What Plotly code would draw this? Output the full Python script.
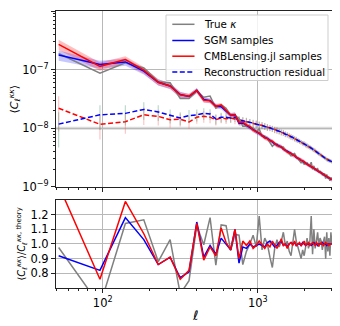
import numpy as np
import plotly.graph_objects as go

ell = [52, 96, 140, 184, 228, 272, 316, 360, 404, 448, 492, 536, 580, 624, 668, 712, 756, 800,
       844, 888, 932, 976, 1020, 1064, 1108, 1152, 1196, 1240, 1284, 1328, 1372, 1416, 1460,
       1504, 1548, 1592, 1636, 1680, 1724, 1768, 1812, 1856, 1900, 1944, 1988, 2032, 2076,
       2120, 2164, 2208, 2252, 2296, 2340, 2384, 2428, 2472, 2516, 2560, 2604, 2648, 2692,
       2736, 2780, 2824, 2868, 2912, 2956, 3000]

# theory C_ell^kk in units of 1e-9
theory_e9 = [193, 150, 115, 92, 71, 58, 49, 43, 38.5, 34,
             30, 25.8, 22.4, 19.6, 17.4, 15.5, 14.0, 12.6, 11.5, 10.5,
             9.62, 8.87, 8.20, 7.64, 7.13, 6.67, 6.26, 5.89, 5.56, 5.25,
             4.97, 4.71, 4.47, 4.25, 4.05, 3.86, 3.69, 3.53, 3.38, 3.23,
             3.11, 2.98, 2.87, 2.76, 2.65, 2.56, 2.47, 2.38, 2.30, 2.22,
             2.15, 2.08, 2.01, 1.95, 1.90, 1.84, 1.78, 1.74, 1.68, 1.63,
             1.59, 1.54, 1.51, 1.47, 1.43, 1.39, 1.35, 1.33]

ratio_true = [0.976, 0.58, 1.14, 1.165, 0.88, 1.03, 0.66, 0.75, 1.125, 0.995,
              1.18, 0.855, 1.13, 1.125, 0.955, 1.065, 1.06, 0.86, 0.95, 1.00,
              1.06, 0.98, 1.19, 0.96, 1.04, 1.00, 0.91, 0.84, 0.97, 1.03,
              0.98, 1.02, 1.08, 0.99, 1.02, 0.95, 0.92, 1.03, 1.10, 1.02,
              0.98, 0.95, 0.90, 0.96, 0.92, 0.98, 1.04, 0.97, 1.02, 1.19,
              0.93, 1.10, 0.97, 1.02, 1.08, 0.98, 1.04, 1.02, 0.96, 1.02,
              1.05, 0.90, 1.08, 0.95, 1.04, 0.92, 1.08, 1.00]

ratio_sgm = [0.92, 0.82, 1.18, 1.03, 0.86, 0.91, 0.77, 0.81, 1.15, 0.91,
             0.99, 0.93, 1.04, 1.00, 0.96, 1.10, 0.87, 0.98, 0.97, 1.00,
             0.98, 0.99, 1.00, 0.99, 0.98, 1.01, 1.02, 1.00, 0.98, 0.99,
             1.01, 1.02, 0.99, 1.00, 0.98, 1.00, 1.01, 1.00, 1.01, 0.99,
             1.00, 1.00, 0.99, 1.01, 1.00, 0.99, 1.00, 1.00, 1.00, 0.99,
             1.00, 1.01, 1.00, 1.00, 0.99, 1.00, 1.00, 1.00, 1.01, 1.00,
             1.00, 1.00, 0.99, 1.00, 1.00, 1.00, 1.00, 1.00]

ratio_cmbl = [1.40, 0.76, 1.29, 1.07, 0.86, 0.91, 0.76, 0.82, 1.14, 0.89,
              0.98, 0.92, 1.11, 1.01, 0.96, 1.10, 0.90, 1.02, 0.99, 1.02,
              0.97, 0.99, 1.02, 0.99, 0.97, 1.00, 0.98, 1.02, 0.99, 0.97,
              1.00, 1.035, 0.99, 1.00, 0.97, 1.00, 1.01, 0.99, 1.02, 0.99,
              1.00, 1.01, 0.99, 1.00, 1.02, 0.99, 1.00, 1.01, 0.99, 1.00,
              1.01, 1.00, 0.99, 1.01, 1.00, 0.99, 1.00, 1.01, 1.00, 0.99,
              1.00, 1.01, 1.00, 1.00, 0.99, 1.00, 1.00, 1.00]

# reconstruction residual spectra in units of 1e-9
resid_sgm_e9 = [11.8, 17, 18, 21, 19, 16.5, 15, 16.5, 17, 18,
                17.5, 14.5, 15.5, 15.5, 15, 15.5, 14, 13.5, 13.2, 12.6,
                12.3, 11.8, 11.5, 11.2, 10.9, 10.4, 10.2, 9.8, 9.5, 9.3,
                8.8, 8.6, 8.4, 7.9, 7.8, 7.4, 7.2, 7.0, 6.6, 6.5,
                6.2, 6.0, 5.8, 5.6, 5.5, 5.2, 5.1, 4.9, 4.8, 4.6,
                4.4, 4.3, 4.15, 4.0, 3.85, 3.7, 3.6, 3.45, 3.35, 3.25,
                3.15, 3.05, 2.95, 2.9, 2.85, 2.8, 2.75, 2.7]

resid_cmbl_e9 = [22, 11.7, 13, 17, 16, 14, 14.3, 12.8, 15.5, 16,
                 15.5, 14, 15, 14.5, 15, 14.2, 13.6, 13.2, 13.0, 12.5,
                 12.1, 11.9, 11.4, 11.3, 10.8, 10.5, 10.1, 9.9, 9.4, 9.2,
                 8.9, 8.5, 8.3, 8.0, 7.7, 7.5, 7.1, 6.9, 6.7, 6.4,
                 6.2, 6.0, 5.8, 5.6, 5.4, 5.3, 5.0, 4.9, 4.7, 4.6,
                 4.45, 4.25, 4.15, 3.95, 3.85, 3.75, 3.6, 3.5, 3.35, 3.25,
                 3.15, 3.1, 2.95, 2.9, 2.85, 2.8, 2.75, 2.7]

# relative error of residual spectra, relative half-width of sample bands
resid_err_frac = [0.6, 0.45, 0.38, 0.33, 0.3, 0.27, 0.25, 0.24, 0.23, 0.22,
                  0.21, 0.2, 0.19, 0.18, 0.17, 0.17, 0.16, 0.16, 0.15, 0.15,
                  0.14, 0.14, 0.14, 0.13, 0.13, 0.13, 0.12, 0.12, 0.12, 0.12,
                  0.11, 0.11, 0.11, 0.11, 0.1, 0.1, 0.1, 0.1, 0.1, 0.1,
                  0.09, 0.09, 0.09, 0.09, 0.09, 0.09, 0.09, 0.08, 0.08, 0.08,
                  0.08, 0.08, 0.08, 0.08, 0.08, 0.08, 0.07, 0.07, 0.07, 0.07,
                  0.07, 0.07, 0.07, 0.07, 0.07, 0.07, 0.07, 0.07]

band_frac = [0.2, 0.16, 0.14, 0.13, 0.12, 0.11, 0.11, 0.1, 0.1, 0.1,
             0.09, 0.09, 0.09, 0.09, 0.09, 0.09, 0.09, 0.09, 0.09, 0.09,
             0.085, 0.085, 0.085, 0.085, 0.085, 0.085, 0.085, 0.085, 0.085, 0.085,
             0.08, 0.08, 0.08, 0.08, 0.08, 0.08, 0.08, 0.08, 0.08, 0.08,
             0.075, 0.075, 0.075, 0.075, 0.075, 0.075, 0.075, 0.075, 0.075, 0.075,
             0.07, 0.07, 0.07, 0.07, 0.07, 0.07, 0.07, 0.07, 0.07, 0.07,
             0.07, 0.07, 0.07, 0.07, 0.07, 0.07, 0.07, 0.07]

top_ticks = [1e-9, 1e-8, 1e-7, 1e-6]
top_ticktext = ["10<sup>−9</sup>", "10<sup>−8</sup>", "10<sup>−7</sup>", "10<sup>−6</sup>"]
x_ticks = [100, 1000]
x_ticktext = ["10<sup>2</sup>", "10<sup>3</sup>"]
ratio_ticks = [0.8, 0.9, 1.0, 1.1, 1.2]
ratio_ticktext = ["0.8", "0.9", "1.0", "1.1", "1.2"]

legend_labels = ["True <i>κ</i>", "SGM samples", "CMBLensing.jl samples", "Reconstruction residual"]

th = np.array(theory_e9) * 1e-9
cl_true = th * np.array(ratio_true)
cl_sgm = th * np.array(ratio_sgm)
cl_cmbl = th * np.array(ratio_cmbl)
band = np.array(band_frac)
res_sgm = np.array(resid_sgm_e9) * 1e-9
res_cmbl = np.array(resid_cmbl_e9) * 1e-9
ef = np.array(resid_err_frac)

FONT = "DejaVu Sans"
GRAY = "rgb(128,128,128)"
BLUE = "rgb(0,0,255)"
RED = "rgb(255,0,0)"
DASH = "5px,2.5px"

fig = go.Figure()

# sample bands
for cl, fc in [(cl_sgm, "rgba(0,0,255,0.22)"), (cl_cmbl, "rgba(255,0,0,0.25)")]:
    fig.add_trace(go.Scatter(x=ell, y=cl * (1 + band), mode="lines", line=dict(width=0),
                             showlegend=False, hoverinfo="skip", xaxis="x", yaxis="y"))
    fig.add_trace(go.Scatter(x=ell, y=cl * (1 - band), mode="lines", line=dict(width=0),
                             fill="tonexty", fillcolor=fc, showlegend=False, hoverinfo="skip",
                             xaxis="x", yaxis="y"))

# residuals with error bars
fig.add_trace(go.Scatter(x=ell, y=res_cmbl, mode="lines", line=dict(color=RED, width=1.5, dash=DASH),
                         error_y=dict(type="data", array=res_cmbl * ef, arrayminus=res_cmbl * ef,
                                      color="rgba(255,90,90,0.35)", thickness=1.2, width=0),
                         showlegend=False, xaxis="x", yaxis="y"))
fig.add_trace(go.Scatter(x=ell, y=res_sgm, mode="lines", line=dict(color=BLUE, width=1.5, dash=DASH),
                         error_y=dict(type="data", array=res_sgm * ef, arrayminus=res_sgm * ef,
                                      color="rgba(60,150,110,0.35)", thickness=1.2, width=0),
                         name="Reconstruction residual", showlegend=False, xaxis="x", yaxis="y"))

# spectra
fig.add_trace(go.Scatter(x=ell, y=cl_true, mode="lines", line=dict(color=GRAY, width=1.5),
                         name="True κ", showlegend=False, xaxis="x", yaxis="y"))
fig.add_trace(go.Scatter(x=ell, y=cl_sgm, mode="lines", line=dict(color=BLUE, width=1.5),
                         name="SGM samples", showlegend=False, xaxis="x", yaxis="y"))
fig.add_trace(go.Scatter(x=ell, y=cl_cmbl, mode="lines", line=dict(color=RED, width=1.5),
                         name="CMBLensing.jl samples", showlegend=False, xaxis="x", yaxis="y"))

# ratio panel
for r, c in [(ratio_true, GRAY), (ratio_sgm, BLUE), (ratio_cmbl, RED)]:
    fig.add_trace(go.Scatter(x=ell, y=r, mode="lines", line=dict(color=c, width=1.5),
                             showlegend=False, xaxis="x2", yaxis="y2"))

xr = [np.log10(50), np.log10(3050)]
axis_common = dict(showline=True, linecolor="#222", linewidth=1, mirror=True,
                   ticks="outside", ticklen=4, tickwidth=1, tickcolor="#222",
                   gridcolor="#b8b8b8", gridwidth=0.8, zeroline=False,
                   tickfont=dict(family=FONT, size=11.5, color="black"))
minor_log = dict(ticks="outside", ticklen=2, tickcolor="#222", dtick="D1", showgrid=False)

# the page body has an 8px margin, so the figure is made 8px smaller on each axis
fig.update_layout(
    width=332, height=318,
    margin=dict(l=48, r=7, t=3, b=38),
    paper_bgcolor="white", plot_bgcolor="white",
    font=dict(family=FONT, size=11, color="black"),
    xaxis=dict(domain=[0, 1], anchor="y", type="log", range=xr, tickvals=x_ticks,
               showticklabels=False, showgrid=True, minor=minor_log, **axis_common),
    yaxis=dict(domain=[0.3646, 1], anchor="x", type="log", range=[-9.0005, -5.9995],
               tickvals=top_ticks, ticktext=top_ticktext, showgrid=True,
               minor=minor_log, **axis_common),
    xaxis2=dict(domain=[0, 1], anchor="y2", type="log", range=xr, tickvals=x_ticks,
                ticktext=x_ticktext, showgrid=True, minor=minor_log, **axis_common),
    yaxis2=dict(domain=[0, 0.3177], anchor="x2", range=[0.7, 1.3],
                tickvals=ratio_ticks, ticktext=ratio_ticktext,
                showgrid=True, **axis_common),
    showlegend=False,
)

fig.add_shape(type="line", xref="x domain", x0=0, x1=1, yref="y", y0=1e-8, y1=1e-8,
              line=dict(color="rgb(218,218,218)", width=3), layer="below")

# legend drawn in paper coordinates (plot area is 277 x 277 px, bottom-left at (56, 288))
def px_x(px):
    return (px - 56) / 277.0

def px_y(py):
    return (288 - py) / 277.0

fig.add_shape(type="rect", xref="paper", yref="paper",
              x0=px_x(166), x1=px_x(328), y0=px_y(80.5), y1=px_y(15),
              line=dict(color="rgb(205,205,205)", width=1), fillcolor="rgba(255,255,255,0.82)",
              layer="above")
leg_styles = [(GRAY, "solid"), (BLUE, "solid"), (RED, "solid"), (BLUE, DASH)]
row_y = [24.3, 40.5, 56.2, 72.0]
for lab, (col, dsh), ry in zip(legend_labels, leg_styles, row_y):
    fig.add_shape(type="line", xref="paper", yref="paper",
                  x0=px_x(172.3), x1=px_x(194.5), y0=px_y(ry), y1=px_y(ry),
                  line=dict(color=col, width=1.5, dash=dsh), layer="above")
    fig.add_annotation(text=lab, xref="paper", yref="paper", x=px_x(201.5), y=px_y(ry),
                       xanchor="left", yanchor="middle", showarrow=False,
                       font=dict(family=FONT, size=10.3, color="black"))

fig.add_annotation(text="⟨<i>C</i><sub><i>ℓ</i></sub><sup><i>κκ</i></sup>⟩",
                   xref="paper", yref="paper", x=px_x(14.5), y=px_y(99), textangle=-90,
                   xanchor="center", yanchor="middle",
                   showarrow=False, font=dict(family=FONT, size=11))
fig.add_annotation(text="⟨<i>C</i><sub><i>ℓ</i></sub><sup><i>κκ</i></sup>⟩/<i>C</i><sub><i>ℓ</i></sub><sup><i>κκ</i>, theory</sup>",
                   xref="paper", yref="paper", x=px_x(21.5), y=px_y(244), textangle=-90,
                   xanchor="center", yanchor="middle",
                   showarrow=False, font=dict(family=FONT, size=9.8))
fig.add_annotation(text="<i>ℓ</i>", xref="paper", yref="paper", x=0.5, y=px_y(315),
                   xanchor="center", yanchor="middle",
                   showarrow=False, font=dict(family=FONT, size=13))

fig.write_html("out.html")
